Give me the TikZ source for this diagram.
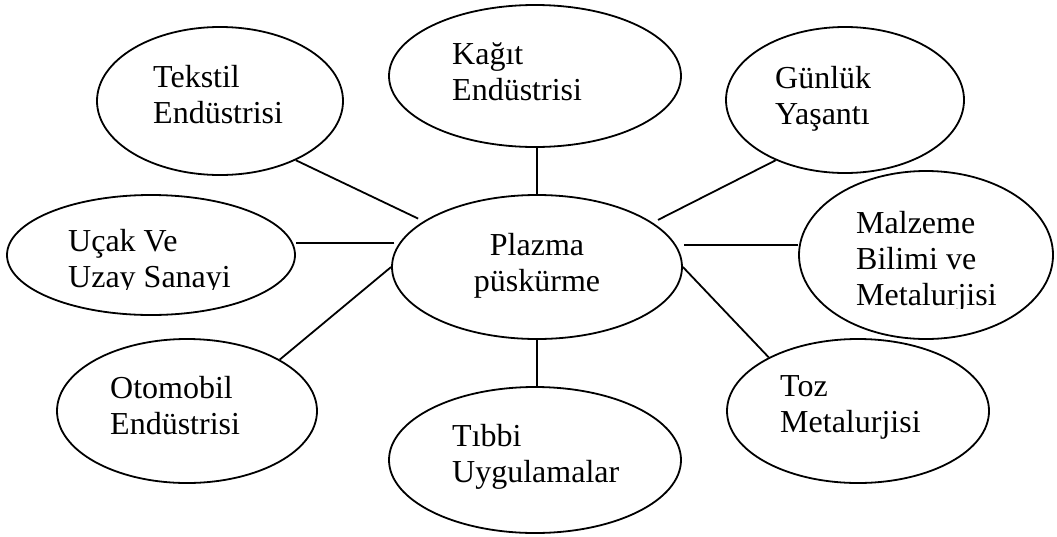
\documentclass[tikz,border=0pt]{standalone}
\usepackage{fontspec}
\setmainfont{Liberation Serif}
\usetikzlibrary{shapes.geometric}
\newcommand\leftlines[1]{\vtop{\baselineskip=36pt\lineskiplimit=-100pt\halign{##\hfil\cr#1\crcr}}}
\newcommand\centerlines[1]{\vtop{\baselineskip=36pt\lineskiplimit=-100pt\halign{\hfil##\hfil\cr#1\crcr}}}
\begin{document}
\begin{tikzpicture}[x=1pt,y=-1pt,
  bubble/.style={draw, ellipse, line width=1.8pt, inner sep=0pt},
  lbl/.style={inner sep=0pt, font=\fontsize{32}{36}\selectfont, anchor=base west},
  link/.style={line width=1.8pt}]
\useasboundingbox (0,0) rectangle (1057,536);
% ellipses
\node[bubble, minimum width=246pt, minimum height=148pt] (tek) at (220,101) {};
\node[bubble, minimum width=292pt, minimum height=142pt] (kag) at (535,76) {};
\node[bubble, minimum width=238pt, minimum height=146pt] (gun) at (845,100) {};
\node[bubble, minimum width=288pt, minimum height=120pt] (ucak) at (151,255) {};
\node[bubble, minimum width=290pt, minimum height=144pt] (plz) at (537,267) {};
\node[bubble, minimum width=254pt, minimum height=168pt] (malz) at (926,255) {};
\node[bubble, minimum width=260pt, minimum height=144pt] (oto) at (187,411) {};
\node[bubble, minimum width=292pt, minimum height=146pt] (tib) at (535,460) {};
\node[bubble, minimum width=262pt, minimum height=144pt] (toz) at (858,411) {};
% texts
\node[lbl] (tekt) at (153,87) {\leftlines{Tekstil\cr Endüstrisi}};
\node[lbl] (kagt) at (452,64) {\leftlines{Kağıt\cr Endüstrisi}};
\node[lbl] (gunt) at (775,88) {\leftlines{Günlük\cr Yaşantı}};
\begin{scope}
\clip (60,215) rectangle (300,289);
\node[lbl] (ucakt) at (68,251) {\leftlines{Uçak Ve\cr Uzay Sanayi}};
\end{scope}
\node[lbl, anchor=base] (plzt) at (537,255) {\centerlines{Plazma\cr püskürme}};
\begin{scope}
\clip (845,195) rectangle (1045,308.5);
\node[lbl] (malzt) at (856,233) {\leftlines{Malzeme\cr Bilimi ve\cr Metalurjisi}};
\end{scope}
\node[lbl] (otot) at (110,398) {\leftlines{Otomobil\cr Endüstrisi}};
\node[lbl] (tibt) at (452,446) {\leftlines{Tıbbi\cr Uygulamalar}};
\node[lbl] (tozt) at (780,396) {\leftlines{Toz\cr Metalurjisi}};
% connectors
\draw[link, shorten >=6pt] (tek.-38.5) -- (plz.158.5);
\draw[link, shorten <=5pt] (plz.170.3) -- (plz.170.3 -| ucak.east);
\draw[link] (plz.north) -- (plz.north |- kag.south);
\draw[link, shorten >=6pt] (gun.-139.9) -- (plz.21.4);
\draw[link, shorten <=8pt] (plz.9.9) -- (plz.9.9 -| malz.west);
\draw[link] (oto.29.5) -- (plz.west);
\draw[link] (toz.149.2) -- (plz.east);
\draw[link] (plz.south) -- (plz.south |- tib.north);
\end{tikzpicture}
\end{document}
